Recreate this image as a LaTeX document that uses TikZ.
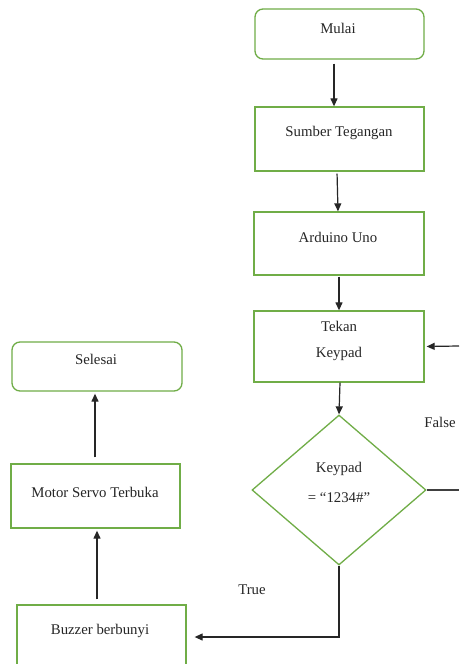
\documentclass[tikz,border=0pt]{standalone}
\usepackage{fontspec}
\setmainfont{Liberation Serif}
\usetikzlibrary{arrows.meta,shapes.geometric}
\definecolor{boxgreen}{RGB}{112,173,71}
\tikzset{
  box/.style={draw=boxgreen,line width=1.3pt,minimum width=169pt,inner sep=0pt},
  rbox/.style={box,rounded corners=8pt},
  dec/.style={draw=boxgreen,line width=1.3pt,diamond,minimum width=174pt,minimum height=150pt,inner sep=0pt},
  txt/.style={font=\fontsize{14.8}{17}\selectfont,inner sep=0pt,text=black!85},
  arr/.style={draw=black!85,line width=1.2pt,-{Triangle[width=7pt,length=8pt]}},
  ln/.style={draw=black!75,line width=1.2pt}
}
\begin{document}
\begin{tikzpicture}[x=1pt,y=-1pt]
\useasboundingbox (0,0) rectangle (459,664);
\fill[white] (0,0) rectangle (459,664);
\clip (0,0) rectangle (459,664);
% boxes
\node[rbox,minimum height=50pt] (m) at (339.5,34) {};
\node[box,minimum height=64pt] (s) at (339.5,139) {};
\node[box,minimum height=63pt,minimum width=170pt] (a) at (339,243.5) {};
\node[box,minimum height=71pt,minimum width=170pt] (k) at (339,346.5) {};
\node[dec] (d) at (339,490) {};
\node[box,minimum height=64pt] (b) at (101.5,637) {};
\node[box,minimum height=64pt] (mo) at (95.5,496) {};
\node[rbox,minimum height=49pt,minimum width=170pt] (se) at (97,366.5) {};
% texts
\node[txt] (tm) at (338,28) {Mulai};
\node[txt] (ts) at (339,133) {Sumber Tegangan};
\node[txt] (ta) at (338,237) {Arduino Uno};
\node[txt] (tk1) at (339,326) {Tekan};
\node[txt] (tk2) at (339,354) {Keypad};
\node[txt] (td1) at (339,469) {Keypad};
\node[txt] (td2) at (339,498) {= “1234\#”};
\node[txt] (tb) at (100,631) {Buzzer berbunyi};
\node[txt] (tmo) at (95,492) {Motor Servo Terbuka};
\node[txt] (tse) at (96,359) {Selesai};
\node[txt] (tf) at (440,422) {False};
\node[txt] (tt) at (252,590) {True};
% free ends
\coordinate (fr) at (459,346);
\coordinate (fl) at (459,490);
% connectors
\draw[arr,shorten <=4pt] ([xshift=-5.5pt]m.south) -- ([xshift=-5.5pt]s.north);
\draw[arr,shorten <=2pt] ([xshift=-2.5pt]s.south) -- ([xshift=-1pt]a.north);
\draw[arr,shorten <=1pt] (a.south) -- (k.north);
\draw[arr] ([xshift=1pt]k.south) -- (d.north);
\draw[ln] (d.east) -- (fl);
\draw[arr,shorten >=2pt] (fr) -- (k.east);
\draw[arr,shorten >=8pt] (d.south) |- (b.east);
\draw[arr,shorten <=5pt,shorten >=2pt] ([xshift=-4.5pt]b.north) -- ([xshift=1.5pt]mo.south);
\draw[arr,shorten <=6pt,shorten >=2pt] ([xshift=-0.5pt]mo.north) -- ([xshift=-2pt]se.south);
\end{tikzpicture}
\end{document}
